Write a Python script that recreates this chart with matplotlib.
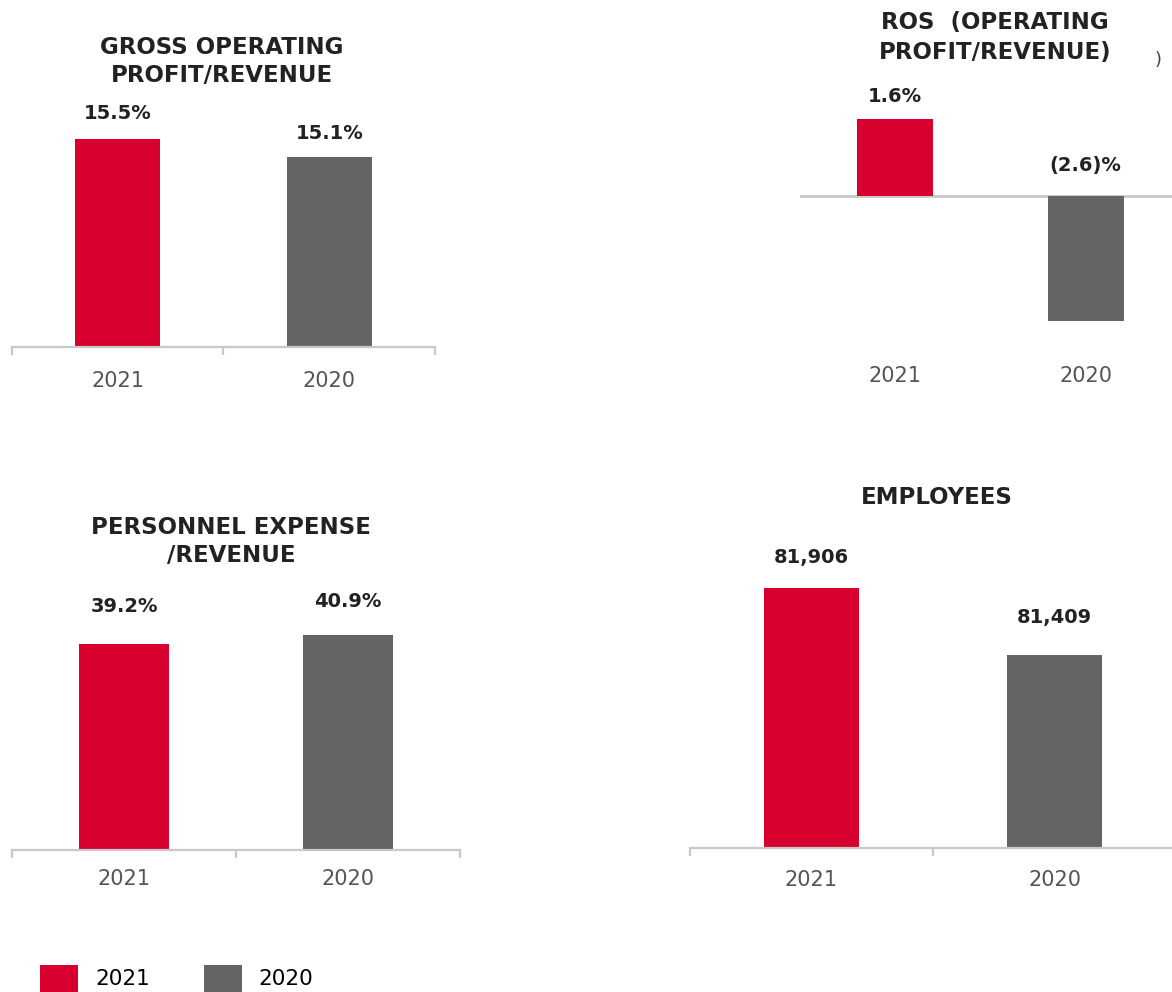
import matplotlib
matplotlib.use('Agg')
import matplotlib.pyplot as plt
from matplotlib.ticker import FixedLocator

W, H = 1172, 992

years = ['2021', '2020']
gop_values = [15.5, 15.1]
gop_labels = ['15.5%', '15.1%']
ros_values = [1.6, -2.6]
ros_labels = ['1.6%', '(2.6)%']
pers_values = [39.2, 40.9]
pers_labels = ['39.2%', '40.9%']
emp_values = [81906, 81409]
emp_labels = ['81,906', '81,409']

red = '#d7002e'
grey = '#646464'
line_grey = '#c8c8c8'
dark = '#222222'

fig = plt.figure(figsize=(W / 100, H / 100), dpi=100)
fig.patch.set_facecolor('white')


def px_axes(x0, x1, ytop, ybot):
    # axes rect from pixel coordinates (top-left origin)
    return fig.add_axes([x0 / W, 1 - ybot / H, (x1 - x0) / W, (ybot - ytop) / H])


def style(ax, ticks=True, pad=14):
    for s in ['top', 'left', 'right']:
        ax.spines[s].set_visible(False)
    ax.spines['bottom'].set_color(line_grey)
    ax.spines['bottom'].set_linewidth(1.6)
    ax.set_yticks([])
    ax.set_xlim(-0.5, 1.5)
    ax.set_xticks([0, 1])
    ax.set_xticklabels(years, fontsize=15, color='#555555')
    ax.tick_params(axis='x', which='major', length=0, pad=pad)
    if ticks:
        ax.xaxis.set_minor_locator(FixedLocator([-0.5, 0.5, 1.5]))
        ax.tick_params(axis='x', which='minor', length=6, width=1.6, color=line_grey)


def add_labels(ax, values, labels, offsets_px):
    for i, (v, lab, off) in enumerate(zip(values, labels, offsets_px)):
        ax.annotate(lab, (i, v), xytext=(0, off * 0.72), textcoords='offset points',
                    ha='center', va='center', fontsize=14, fontweight='bold', color=dark,
                    annotation_clip=False)


def title(x, ys, lines):
    for y, t in zip(ys, lines):
        fig.text(x / W, 1 - y / H, t, ha='center', va='center', fontsize=16.5,
                 fontweight='bold', color=dark)


# gross operating profit / revenue
ax1 = px_axes(12, 435, 100, 347)
bars = ax1.bar([0, 1], gop_values, width=0.4, color=[red, grey])
ax1.set_ylim(10.9, 10.9 + 247 / 45.2)
style(ax1, pad=17.5)
add_labels(ax1, gop_values, gop_labels, [26, 24])
title(222, [48, 75], ['GROSS OPERATING', 'PROFIT/REVENUE'])

# ROS
ax2 = px_axes(800, 1181, 100, 355)
ax2.bar([0, 1], ros_values, width=0.4, color=[red, grey])
ax2.set_ylim(-159 / 48, 96 / 48)
style(ax2, ticks=False, pad=8)
ax2.spines['bottom'].set_visible(False)
ax2.axhline(0, color=line_grey, lw=2, zorder=0)
add_labels(ax2, [ros_values[0], 0], ros_labels, [23, 31])
title(995, [23, 52], ['ROS  (OPERATING', 'PROFIT/REVENUE)'])
fig.text(1158 / W, 1 - 60 / H, ')', ha='center', va='center', fontsize=13, color='#444444')

# personnel expense / revenue
ax3 = px_axes(12, 460, 560, 850)
ax3.bar([0, 1], pers_values, width=0.4, color=[red, grey])
ax3.set_ylim(0, 290 / 5.26)
style(ax3)
add_labels(ax3, pers_values, pers_labels, [37, 33])
title(231, [528, 555], ['PERSONNEL EXPENSE', '/REVENUE'])

# employees
ax4 = px_axes(690, 1176, 530, 848)
ax4.bar([0, 1], emp_values, width=0.395, color=[red, grey])
ax4.set_ylim(79977, 79977 + 318 / 0.1348)
style(ax4, pad=15.5)
add_labels(ax4, emp_values, emp_labels, [30, 37])
title(937, [497], ['EMPLOYEES'])

fig.legend(handles=list(bars), labels=years, loc='lower left',
           bbox_to_anchor=(40 / W, 0), borderaxespad=0, frameon=False, ncol=2,
           fontsize=15.5, handlelength=1.77, handleheight=1.58, handletextpad=0.79,
           columnspacing=2.5, borderpad=0)

fig.savefig('out.png', dpi=100)
